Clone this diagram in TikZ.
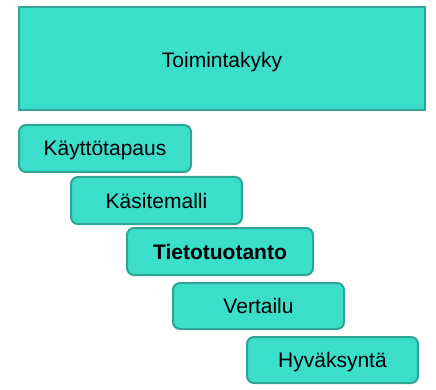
\documentclass[tikz,border=0pt]{standalone}
\usepackage{fontspec}
\setmainfont{Liberation Sans}
\definecolor{boxfill}{HTML}{3BDECB}
\definecolor{boxline}{HTML}{2FA595}
\begin{document}
\begin{tikzpicture}[x=1pt,y=-1pt,
  base/.style={draw=boxline,fill=boxfill,line width=2pt,inner sep=0pt,text height=15pt,text depth=0pt,font=\fontsize{21}{25}\selectfont},
  stepbox/.style={base,rounded corners=7pt,minimum width=172pt,minimum height=47pt}]
\useasboundingbox (0,0) rectangle (436,390);
\node[base,minimum width=406pt,minimum height=103pt] (top) at (222,58.5) {\raisebox{-1.5pt}{Toimintakyky}};
\node[stepbox] (b1) at (105,148.5) {Käyttötapaus};
\node[stepbox,minimum width=171pt] (b2) at (156.5,200.5) {Käsitemalli};
\node[stepbox,minimum width=186pt,font=\fontsize{21}{25}\selectfont\bfseries] (b3) at (220,251.5) {Tietotuotanto};
\node[stepbox,minimum width=171pt,minimum height=46pt] (b4) at (258.5,306) {Vertailu};
\node[stepbox,minimum width=171pt,minimum height=46pt] (b5) at (332.5,360) {Hyväksyntä};
\end{tikzpicture}
\end{document}
